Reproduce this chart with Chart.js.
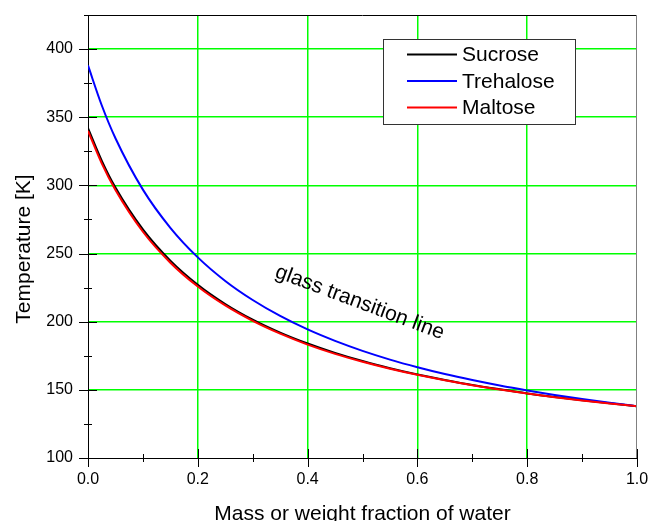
<!DOCTYPE html>
<html>
<head>
<meta charset="utf-8">
<title>Glass transition temperature of sugar-water mixtures</title>
<script src="https://cdn.jsdelivr.net/npm/chart.js@4.4.0/dist/chart.umd.min.js"></script>
<style>
  html, body { margin: 0; padding: 0; background: #fff; }
  #wrap { width: 649px; height: 521px; }
</style>
</head>
<body>
<div id="wrap"><canvas id="tgChart" width="649" height="521"></canvas></div>
<script>
// water mass fraction and glass transition temperatures [K]
const waterFrac = [0, 0.025, 0.05, 0.1, 0.15, 0.2, 0.25, 0.3, 0.35, 0.4, 0.45, 0.5,
                   0.55, 0.6, 0.65, 0.7, 0.75, 0.8, 0.85, 0.9, 0.95, 1.0];
const sucrose   = [342, 318.2, 298.4, 267.7, 244.8, 227.1, 213.0, 201.5, 192.0, 184.0, 177.1, 171.1,
                   165.9, 161.3, 157.3, 153.6, 150.4, 147.4, 144.8, 142.3, 140.1, 138];
const trehalose = [388, 358.8, 334.6, 296.9, 268.9, 247.2, 229.9, 215.9, 204.2, 194.3, 185.9, 178.6,
                   172.2, 166.6, 161.6, 157.2, 153.2, 149.6, 146.3, 143.3, 140.5, 138];
const maltose   = [340, 316.2, 296.6, 266.0, 243.3, 225.8, 211.9, 200.6, 191.2, 183.2, 176.4, 170.6,
                   165.5, 161.0, 157.0, 153.4, 150.2, 147.3, 144.6, 142.2, 140.0, 138];

const xTicks = [0, 0.2, 0.4, 0.6, 0.8, 1.0];
const yTicks = [100, 150, 200, 250, 300, 350, 400];

const FONT = '"Liberation Sans", Arial, sans-serif';
const gridGreen = '#00ff00';

function pts(vals) {
  return waterFrac.map((w, i) => ({ x: w, y: vals[i] }));
}

// frame, tick marks, axis titles, legend box and the curve label
const decorations = {
  id: 'decorations',
  afterDraw(chart) {
    const c = chart.ctx;
    const a = chart.chartArea;
    const xs = chart.scales.x, ys = chart.scales.y;
    c.save();

    // top and right frame
    c.lineWidth = 1;
    c.strokeStyle = '#000';
    c.beginPath();
    c.moveTo(a.left, Math.round(a.top) + 0.5);
    c.lineTo(a.right, Math.round(a.top) + 0.5);
    c.stroke();
    c.strokeStyle = '#808080';
    c.beginPath();
    c.moveTo(Math.round(a.right) - 0.5, a.top);
    c.lineTo(Math.round(a.right) - 0.5, a.bottom);
    c.stroke();

    // ticks crossing the axes
    c.strokeStyle = '#000';
    c.beginPath();
    for (let v = 100; v <= 425; v += 25) {
      const y = Math.round(ys.getPixelForValue(v)) + 0.5;
      const len = v % 50 === 0 ? 9 : 4;
      c.moveTo(a.left - len, y);
      c.lineTo(a.left + len, y);
    }
    for (let k = 0; k <= 10; k++) {
      const x = Math.round(xs.getPixelForValue(k / 10)) + 0.5;
      const len = k % 2 === 0 ? 9 : 4;
      c.moveTo(x, a.bottom - len);
      c.lineTo(x, a.bottom + len);
    }
    c.stroke();

    // axis titles
    c.fillStyle = '#000';
    c.font = '21px ' + FONT;
    c.textAlign = 'center';
    c.textBaseline = 'alphabetic';
    c.fillText('Mass or weight fraction of water', (a.left + a.right) / 2, 520);
    c.save();
    c.translate(30, 249);
    c.rotate(-Math.PI / 2);
    c.fillText('Temperature [K]', 0, 0);
    c.restore();

    // curve label
    c.save();
    c.translate(xs.getPixelForValue(0.495), ys.getPixelForValue(214));
    c.rotate(20.5 * Math.PI / 180);
    c.textBaseline = 'middle';
    c.fillText('glass transition line', 0, 0);
    c.restore();

    // legend
    const bx = 383, by = 39, bw = 192, bh = 85;
    c.fillStyle = '#fff';
    c.fillRect(bx, by, bw, bh);
    c.strokeStyle = '#333';
    c.strokeRect(bx + 0.5, by + 0.5, bw, bh);
    c.textAlign = 'left';
    c.textBaseline = 'middle';
    chart.data.datasets.forEach((ds, i) => {
      const y = 54.5 + i * 26.5;
      c.strokeStyle = ds.borderColor;
      c.lineWidth = 2;
      c.beginPath();
      c.moveTo(407, y);
      c.lineTo(457, y);
      c.stroke();
      c.fillStyle = '#000';
      c.fillText(ds.label, 462, y + 1);
    });

    c.restore();
  }
};

const ctx = document.getElementById('tgChart');
const tgChart = new Chart(ctx, {
  type: 'line',
  data: {
    datasets: [
      { label: 'Sucrose',   data: pts(sucrose),   borderColor: '#000000', order: 2 },
      { label: 'Trehalose', data: pts(trehalose), borderColor: '#0000ff', order: 1 },
      { label: 'Maltose',   data: pts(maltose),   borderColor: '#ff0000', order: 0 }
    ]
  },
  options: {
    responsive: false,
    animation: false,
    devicePixelRatio: 1,
    layout: { padding: { top: 15, right: 12, left: 0, bottom: 0 } },
    elements: {
      point: { radius: 0 },
      line: { borderWidth: 2, cubicInterpolationMode: 'monotone', fill: false }
    },
    plugins: {
      legend: { display: false },
      tooltip: { enabled: false }
    },
    scales: {
      x: {
        type: 'linear',
        min: 0,
        max: 1,
        afterFit: s => { s.height = 63; s.paddingLeft = 0; s.paddingRight = 0; },
        afterBuildTicks: s => { s.ticks = xTicks.map(v => ({ value: v })); },
        grid: {
          drawTicks: false,
          lineWidth: 1.5,
          color: t => (t.tick && (t.tick.value === 0 || t.tick.value === 1)) ? 'rgba(0,0,0,0)' : gridGreen
        },
        border: { color: '#000', width: 1 },
        ticks: {
          padding: 12,
          color: '#000',
          font: { family: FONT, size: 16 },
          callback: v => Number(v).toFixed(1)
        }
      },
      y: {
        min: 100,
        max: 425,
        afterFit: s => { s.width = 88; s.paddingTop = 0; s.paddingBottom = 0; },
        afterBuildTicks: s => { s.ticks = yTicks.map(v => ({ value: v })); },
        grid: {
          drawTicks: false,
          lineWidth: 1.5,
          color: t => (t.tick && t.tick.value === 100) ? 'rgba(0,0,0,0)' : gridGreen
        },
        border: { color: '#000', width: 1 },
        ticks: {
          padding: 15,
          color: '#000',
          font: { family: FONT, size: 16 }
        }
      }
    }
  },
  plugins: [decorations]
});
</script>
</body>
</html>
